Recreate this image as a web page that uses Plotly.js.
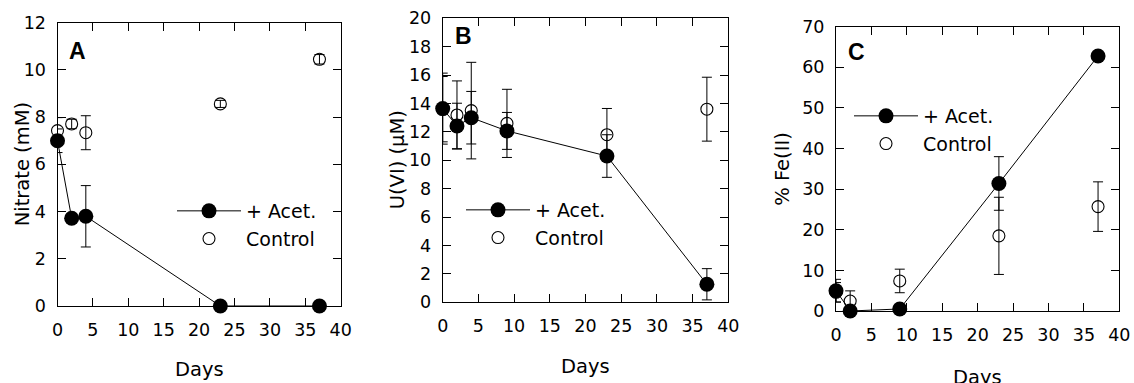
<!DOCTYPE html>
<html>
<head>
<meta charset="utf-8">
<script src="https://cdn.plot.ly/plotly-3.0.1.min.js"></script>
<style>html,body{margin:0;padding:0;background:#fff;}#chart{width:1134px;height:383px;}</style>
</head>
<body>
<div id="chart"></div>
<script>
// ---- Panel A: Nitrate ----
const daysA = [0, 2, 4, 23, 37];
const nitrateAcet = [7.0, 3.72, 3.8, 0, 0];
const nitrateAcetErr = [0.5, 0.1, 1.3, 0, 0];
const nitrateCtrl = [7.43, 7.71, 7.34, 8.56, 10.45];
const nitrateCtrlErr = [0.55, 0.2, 0.72, 0.15, 0.2];

// ---- Panel B: U(VI) ----
const daysB = [0, 2, 4, 9, 23, 37];
const uAcet = [13.64, 12.42, 13.0, 12.07, 10.3, 1.27];
const uAcetErr = [2.5, 1.6, 1.85, 1.3, 1.5, 1.1];
const uCtrl = [13.6, 13.19, 13.5, 12.6, 11.8, 13.6];
const uCtrlErr = [2.3, 2.4, 3.4, 2.4, 1.85, 2.25];

// ---- Panel C: % Fe(II) ----
const daysC = [0, 2, 9, 23, 37];
const feAcet = [5.0, 0, 0.5, 31.4, 62.8];
const feAcetErr = [2.8, 0, 0, 6.6, 0.5];
const feCtrl = [4.6, 2.46, 7.4, 18.5, 25.7];
const feCtrlErr = [2.4, 2.5, 2.9, 9.5, 6.1];

const seriesNames = ['+ Acet.', 'Control'];
const panelLabels = ['A', 'B', 'C'];
const yTitles = ['Nitrate (mM)', 'U(VI) (\u03bcM)', '% Fe(II)'];
const xTitle = 'Days';

const W = 1134, H = 383;
const px = x => x / W;
const py = y => 1 - y / H;
const FONT = 'DejaVu Sans, Liberation Sans, sans-serif';
const BOLD = 'Liberation Sans, Arial, sans-serif';

function errBar(arr) {
  return {type: 'data', array: arr, visible: true, color: '#000', thickness: 1, width: 5};
}
function ctrlTrace(x, y, e, xa, ya, lg) {
  return {x: x, y: y, error_y: errBar(e), xaxis: xa, yaxis: ya, legend: lg, legendrank: 2,
    mode: 'markers', name: seriesNames[1], type: 'scatter', cliponaxis: false,
    marker: {symbol: 'circle-open', size: 12, color: '#000', line: {width: 1.1, color: '#000'}}};
}
function acetTrace(x, y, e, xa, ya, lg) {
  return {x: x, y: y, error_y: errBar(e), xaxis: xa, yaxis: ya, legend: lg, legendrank: 1,
    mode: 'lines+markers', name: seriesNames[0], type: 'scatter', cliponaxis: false,
    line: {color: '#000', width: 1},
    marker: {symbol: 'circle', size: 15, color: '#000'}};
}

const data = [
  ctrlTrace(daysA, nitrateCtrl, nitrateCtrlErr, 'x', 'y', 'legend'),
  acetTrace(daysA, nitrateAcet, nitrateAcetErr, 'x', 'y', 'legend'),
  ctrlTrace(daysB, uCtrl, uCtrlErr, 'x2', 'y2', 'legend2'),
  acetTrace(daysB, uAcet, uAcetErr, 'x2', 'y2', 'legend2'),
  ctrlTrace(daysC, feCtrl, feCtrlErr, 'x3', 'y3', 'legend3'),
  acetTrace(daysC, feAcet, feAcetErr, 'x3', 'y3', 'legend3')
];

function xaxis(dom, anchor) {
  return {domain: dom, anchor: anchor, range: [0, 40], dtick: 5, tick0: 0,
    ticks: 'inside', ticklen: 8, tickwidth: 1, tickcolor: '#000',
    showline: true, linecolor: '#000', linewidth: 1, mirror: 'ticks',
    showgrid: false, zeroline: false, ticklabelstandoff: 8,
    tickfont: {family: FONT, size: 17.5, color: '#000'}};
}
function yaxis(dom, anchor, max, dt) {
  return {domain: dom, anchor: anchor, range: [0, max], dtick: dt, tick0: 0,
    ticks: 'inside', ticklen: 8, tickwidth: 1, tickcolor: '#000',
    showline: true, linecolor: '#000', linewidth: 1, mirror: 'ticks',
    showgrid: false, zeroline: false, ticklabelstandoff: 7,
    tickfont: {family: FONT, size: 17.5, color: '#000'}};
}

const boxes = [
  {l: 57.5, r: 340.7, t: 22.7, b: 306, ytx: 22, ylab: [77, 51], xty: 356, leg: [172, 192]},
  {l: 442.7, r: 728.3, t: 18.3, b: 302.3, ytx: 397, ylab: [463, 36], xty: 353, leg: [461, 191]},
  {l: 836, r: 1119.3, t: 26.7, b: 311, ytx: 783, ylab: [856, 52], xty: 364, leg: [849, 97]}
];

const annotations = [];
boxes.forEach((b, i) => {
  annotations.push({xref: 'paper', yref: 'paper', x: px(b.ylab[0]), y: py(b.ylab[1]),
    text: '<b>' + panelLabels[i] + '</b>', showarrow: false, xanchor: 'center', yanchor: 'middle',
    font: {family: BOLD, size: 23, color: '#000'}});
  annotations.push({xref: 'paper', yref: 'paper', x: px(b.ytx), y: py((b.t + b.b) / 2),
    text: yTitles[i], showarrow: false, textangle: -90, xanchor: 'center', yanchor: 'middle',
    font: {family: FONT, size: 19.5, color: '#000'}});
  annotations.push({xref: 'paper', yref: 'paper', x: px((b.l + b.r) / 2), y: py(b.xty),
    text: xTitle, showarrow: false, xanchor: 'center', yanchor: 'top',
    font: {family: FONT, size: 19.5, color: '#000'}});
});

function legendAt(b) {
  return {x: px(b.leg[0]), y: py(b.leg[1]), xanchor: 'left', yanchor: 'top',
    bgcolor: 'rgba(0,0,0,0)', borderwidth: 0, itemwidth: 64,
    font: {family: FONT, size: 19, color: '#000'}};
}

const layout = {
  width: W, height: H,
  margin: {l: 0, r: 0, t: 0, b: 0},
  paper_bgcolor: '#fff', plot_bgcolor: '#fff',
  font: {family: FONT, size: 18, color: '#000'},
  showlegend: true,
  xaxis: xaxis([px(boxes[0].l), px(boxes[0].r)], 'y'),
  yaxis: yaxis([py(boxes[0].b), py(boxes[0].t)], 'x', 12, 2),
  xaxis2: xaxis([px(boxes[1].l), px(boxes[1].r)], 'y2'),
  yaxis2: yaxis([py(boxes[1].b), py(boxes[1].t)], 'x2', 20, 2),
  xaxis3: xaxis([px(boxes[2].l), px(boxes[2].r)], 'y3'),
  yaxis3: yaxis([py(boxes[2].b), py(boxes[2].t)], 'x3', 70, 10),
  legend: legendAt(boxes[0]),
  legend2: legendAt(boxes[1]),
  legend3: legendAt(boxes[2]),
  annotations: annotations
};

Plotly.newPlot('chart', data, layout, {displayModeBar: false, staticPlot: true});
</script>
</body>
</html>
